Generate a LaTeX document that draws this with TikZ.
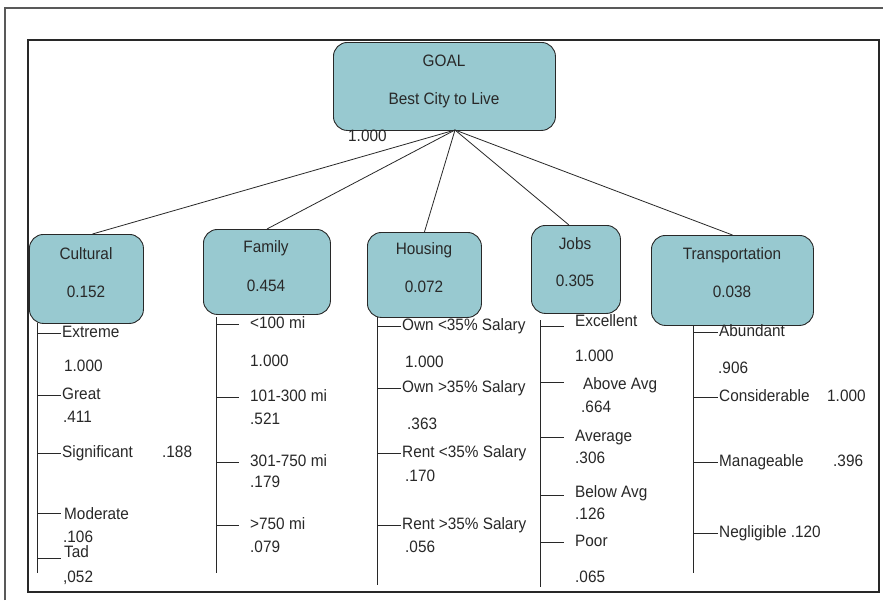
\documentclass[tikz,border=0pt]{standalone}
\usepackage{fontspec}
\setmainfont[FakeStretch=0.93]{Liberation Sans}
\usetikzlibrary{calc}
\definecolor{boxfill}{RGB}{152,201,208}
\definecolor{ink}{RGB}{40,40,40}

\begin{document}
\begin{tikzpicture}[x=1pt,y=-1pt,
  crit/.style={draw=ink, line width=0.9pt, fill=boxfill, rounded corners=14pt, inner sep=0pt},
  txt/.style={inner sep=0pt, font=\fontsize{16.5}{19}\selectfont, text=ink, text height=12pt, text depth=3.5pt},
  lbl/.style={txt, anchor=west},
  link/.style={draw=ink, line width=0.8pt},
  stem/.style={draw=ink, line width=0.9pt},
  tick/.style={draw=ink, line width=0.8pt}]

\useasboundingbox (0,0) rectangle (883,600);
\fill[white] (0,0) rectangle (883,600);

% frames
\draw[gray!70!black, line width=1.2pt] (5,600) -- (5,8) -- (883,8);
\draw[ink, line width=1.2pt] (28,40) rectangle (879,592);

% criteria boxes
\node[crit, anchor=north west, minimum width=222pt, minimum height=88pt] (goal) at (333,42) {};
\node[crit, anchor=north west, minimum width=114pt, minimum height=89pt] (cul) at (29,234) {};
\node[crit, anchor=north west, minimum width=127pt, minimum height=85pt] (fam) at (203,229) {};
\node[crit, anchor=north west, minimum width=114pt, minimum height=85pt] (hou) at (367,232) {};
\node[crit, anchor=north west, minimum width=89pt, minimum height=88pt] (job) at (531,225) {};
\node[crit, anchor=north west, minimum width=162pt, minimum height=90pt] (tra) at (651,235) {};

% box texts
\node[txt] (goalT) at (444,62) {GOAL};
\node[txt] (goalS) at (444,100) {Best City to Live};
\node[lbl] (goalW) at (348,137) {1.000};
\node[txt] (culT) at (86,255) {Cultural};
\node[txt] (culW) at (86,293) {0.152};
\node[txt] (famT) at (266,248) {Family};
\node[txt] (famW) at (266,287) {0.454};
\node[txt] (houT) at (424,250) {Housing};
\node[txt] (houW) at (424,288) {0.072};
\node[txt] (jobT) at (575,245) {Jobs};
\node[txt] (jobW) at (575,282) {0.305};
\node[txt] (traT) at (732,255) {Transportation};
\node[txt] (traW) at (732,293) {0.038};

% goal to criteria
\coordinate (hub) at (455,130);
\draw[link] (hub) -- ([xshift=6pt]cul.north);
\draw[link] (hub) -- (fam.north);
\draw[link] (hub) -- (hou.north);
\draw[link] (hub) -- ([xshift=-7pt]job.north);
\draw[link] (hub) -- (tra.north);

% Cultural intensities
\coordinate (cst) at (37,323);
\draw[stem] (cst) -- (37,573);
\node[lbl] (c1) at (62,333) {Extreme};
\node[lbl] (c1w) at (64,367) {1.000};
\node[lbl] (c2) at (62,395) {Great};
\node[lbl] (c2w) at (63,418) {.411};
\node[lbl] (c3) at (62,453) {Significant};
\node[lbl] (c3w) at (162,453) {.188};
\node[lbl] (c4) at (64,515) {Moderate};
\node[lbl] (c4w) at (63,538) {.106};
\node[lbl] (c5) at (64,553) {Tad};
\node[lbl] (c5w) at (63,578) {,052};
\draw[tick] (cst |- c1.west) -- +(24,0);
\draw[tick] (cst |- c2.west) -- +(24,0);
\draw[tick] (cst |- c3.west) -- +(24,0);
\draw[tick] ($(cst |- c4.west)+(0,-2)$) -- +(24,0);
\draw[tick] ($(cst |- c5.west)+(0,5)$) -- +(24,0);

% Family intensities
\coordinate (fst) at (216,317);
\draw[stem] (fst) -- (216,573);
\node[lbl] (f1) at (250,324) {<100 mi};
\node[lbl] (f1w) at (250,362) {1.000};
\node[lbl] (f2) at (250,397) {101-300 mi};
\node[lbl] (f2w) at (250,420) {.521};
\node[lbl] (f3) at (250,462) {301-750 mi};
\node[lbl] (f3w) at (250,483) {.179};
\node[lbl] (f4) at (250,525) {>750 mi};
\node[lbl] (f4w) at (250,548) {.079};
\foreach \n in {f1,f2,f3,f4} \draw[tick] (fst |- \n.west) -- +(23,0);

% Housing intensities
\coordinate (hst) at (377,317);
\draw[stem] (hst) -- (377,585);
\node[lbl] (h1) at (402,326) {Own <35\% Salary};
\node[lbl] (h1w) at (405,363) {1.000};
\node[lbl] (h2) at (402,388) {Own >35\% Salary};
\node[lbl] (h2w) at (407,425) {.363};
\node[lbl] (h3) at (402,453) {Rent <35\% Salary};
\node[lbl] (h3w) at (405,477) {.170};
\node[lbl] (h4) at (402,525) {Rent >35\% Salary};
\node[lbl] (h4w) at (405,548) {.056};
\foreach \n in {h1,h2,h3,h4} \draw[tick] (hst |- \n.west) -- +(24,0);

% Jobs intensities
\coordinate (jst) at (540,320);
\draw[stem] (jst) -- (540,587);
\node[lbl] (j1) at (575,322) {Excellent};
\node[lbl] (j1w) at (575,357) {1.000};
\node[lbl] (j2) at (583,385) {Above Avg};
\node[lbl] (j2w) at (581,408) {.664};
\node[lbl] (j3) at (575,437) {Average};
\node[lbl] (j3w) at (575,459) {.306};
\node[lbl] (j4) at (575,493) {Below Avg};
\node[lbl] (j4w) at (575,515) {.126};
\node[lbl] (j5) at (575,542) {Poor};
\node[lbl] (j5w) at (575,578) {.065};
\draw[tick] ($(jst |- j1.west)+(0,4)$) -- +(24,0);
\draw[tick] ($(jst |- j2.west)+(0,-3)$) -- +(24,0);
\draw[tick] (jst |- j3.west) -- +(24,0);
\draw[tick] ($(jst |- j4.west)+(0,2)$) -- +(24,0);
\draw[tick] (jst |- j5.west) -- +(24,0);

% Transportation intensities
\coordinate (tst) at (693,325);
\draw[stem] (tst) -- (693,573);
\node[lbl] (t1) at (719,332) {Abundant};
\node[lbl] (t1w) at (718,369) {.906};
\node[lbl] (t2) at (719,397) {Considerable};
\node[lbl] (t2w) at (827,397) {1.000};
\node[lbl] (t3) at (719,462) {Manageable};
\node[lbl] (t3w) at (833,462) {.396};
\node[lbl] (t4) at (719,533) {Negligible .120};
\foreach \n in {t1,t2,t3,t4} \draw[tick] (tst |- \n.west) -- +(25,0);
\end{tikzpicture}
\end{document}
